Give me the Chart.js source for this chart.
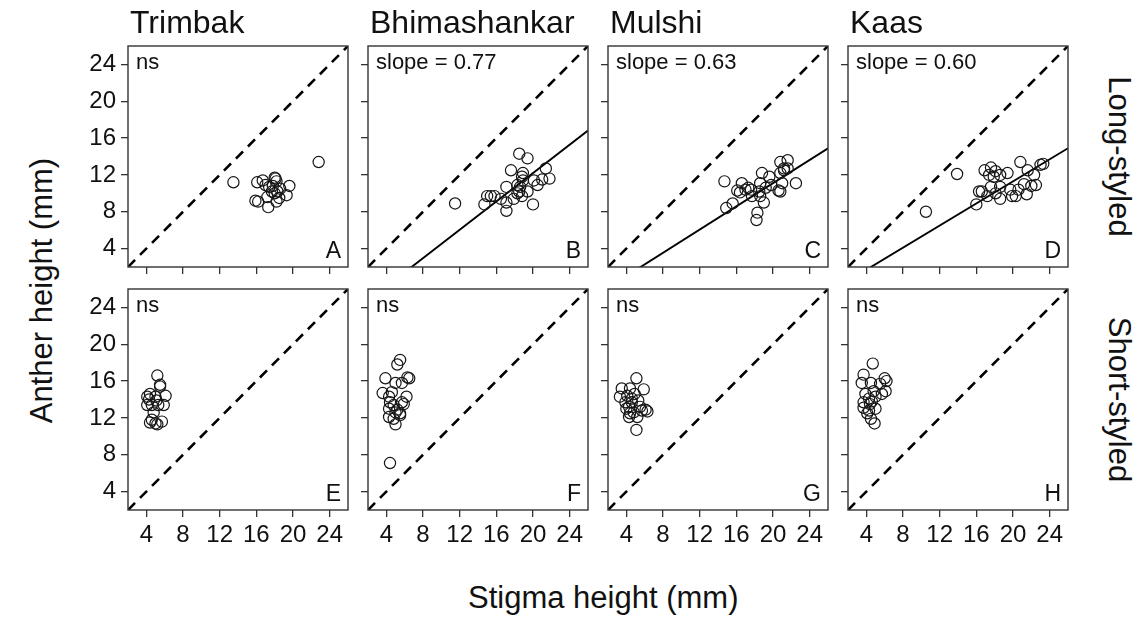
<!DOCTYPE html>
<html>
<head>
<meta charset="utf-8">
<script src="https://cdn.jsdelivr.net/npm/chart.js@4.4.1/dist/chart.umd.min.js"></script>
<style>
  html, body { margin: 0; padding: 0; background: #fff; }
  body { width: 1139px; height: 621px; position: relative; overflow: hidden;
         font-family: "Liberation Sans", Arial, sans-serif; color: #111; }
  canvas.panel { position: absolute; }
  .title { position: absolute; white-space: nowrap; font-size: 31px; line-height: 31px; color: #111; }
</style>
</head>
<body>
<div class="title" id="ytitle">Anther height (mm)</div>
<div class="title" id="xtitle">Stigma height (mm)</div>
<div class="title" id="strip0">Long-styled</div>
<div class="title" id="strip1">Short-styled</div>
<script>
// Sites (columns) and morphs (rows)
const sites = ['Trimbak', 'Bhimashankar', 'Mulshi', 'Kaas'];
const morphs = ['Long-styled', 'Short-styled'];
const panelLetters = ['A', 'B', 'C', 'D', 'E', 'F', 'G', 'H'];
const axisTicks = [4, 8, 12, 16, 20, 24];
const axisRange = [2, 26];

// Regression fits for long-styled flowers (null = not significant)
const longSlopes = [null, 0.77, 0.63, 0.60];
const longIntercepts = [null, -3.2, -1.5, -0.7];

// Long-styled: stigma height and anther height (mm)
const trimbakLongStigma = [13.5, 22.8, 16.1, 16.7, 18.0, 18.2, 19.6, 19.3, 17.4, 17.7, 18.0, 18.3, 17.2, 15.9, 16.2, 17.3, 18.2, 18.5, 18.6, 17.8, 17.0, 18.1];
const trimbakLongAnther  = [11.2, 13.4, 11.2, 11.4, 11.7, 11.3, 10.8, 9.8, 10.7, 10.2, 10.0, 10.2, 9.6, 9.2, 9.1, 8.5, 9.1, 9.5, 10.5, 10.8, 10.9, 11.6];

const bhimaLongStigma = [11.5, 14.7, 15.0, 15.4, 15.8, 17.1, 17.1, 17.1, 17.6, 18.5, 19.4, 18.9, 18.8, 17.9, 18.3, 18.6, 18.5, 18.8, 19.4, 20.0, 20.1, 20.5, 21.0, 21.4, 21.8, 18.9, 18.3, 16.5];
const bhimaLongAnther  = [8.9, 8.8, 9.7, 9.7, 9.7, 9.0, 8.1, 10.7, 12.5, 14.3, 13.8, 12.2, 11.8, 9.4, 10.9, 10.7, 10.2, 9.7, 10.2, 8.8, 11.4, 10.9, 11.5, 12.7, 11.6, 11.4, 10.0, 9.4];

const mulshiLongStigma = [14.7, 14.9, 15.6, 16.1, 16.6, 16.4, 17.0, 17.6, 17.7, 18.3, 18.2, 18.6, 18.8, 18.6, 19.0, 18.5, 19.6, 19.8, 20.6, 20.8, 21.2, 21.6, 21.2, 21.6, 22.5, 20.8, 21.0, 20.8, 17.3, 19.2];
const mulshiLongAnther  = [11.3, 8.4, 8.9, 10.3, 11.1, 10.1, 10.4, 10.4, 9.7, 7.9, 7.1, 11.1, 12.2, 9.7, 9.0, 10.2, 11.8, 10.9, 10.3, 13.4, 12.7, 13.6, 12.5, 12.7, 11.1, 12.2, 11.1, 10.2, 10.6, 10.6];

const kaasLongStigma = [10.5, 13.9, 16.0, 16.3, 16.9, 17.6, 17.4, 18.1, 18.6, 19.4, 17.9, 16.6, 17.2, 17.6, 18.1, 18.6, 18.6, 19.7, 19.9, 20.3, 20.8, 21.2, 21.6, 22.0, 22.5, 23.0, 23.3, 21.5, 22.3, 20.6];
const kaasLongAnther  = [8.0, 12.1, 8.8, 10.2, 12.5, 12.8, 12.0, 12.4, 12.0, 12.2, 11.8, 10.2, 9.7, 10.7, 10.0, 9.4, 10.7, 10.4, 9.7, 9.7, 13.4, 11.0, 12.5, 10.8, 10.9, 13.1, 13.2, 9.9, 12.0, 10.4];

// Short-styled: stigma height and anther height (mm)
const trimbakShortStigma = [5.2, 5.5, 5.5, 4.4, 4.1, 6.1, 5.1, 4.1, 4.6, 5.9, 5.3, 4.8, 4.6, 4.4, 5.0, 5.7, 5.2, 4.3, 5.0];
const trimbakShortAnther  = [16.6, 15.6, 15.4, 14.6, 14.3, 14.4, 13.9, 13.4, 13.4, 13.4, 13.4, 12.6, 11.8, 11.5, 11.4, 11.6, 11.3, 14.0, 14.3];

const bhimaShortStigma = [4.4, 5.5, 5.2, 3.9, 6.3, 6.5, 5.0, 5.7, 3.6, 4.3, 6.2, 4.4, 5.7, 5.9, 4.8, 4.3, 5.0, 5.5, 4.3, 4.8, 5.5, 5.0, 4.6, 5.2];
const bhimaShortAnther  = [7.1, 18.3, 17.8, 16.3, 16.4, 16.3, 15.8, 15.8, 14.7, 14.3, 14.3, 13.7, 13.7, 13.5, 13.4, 13.0, 12.6, 12.5, 12.1, 11.9, 12.3, 11.3, 14.8, 12.9];

const mulshiShortStigma = [5.1, 3.5, 4.4, 5.9, 3.3, 4.1, 4.9, 3.9, 4.6, 5.3, 4.3, 5.5, 6.1, 6.3, 4.4, 5.2, 4.3, 5.1, 5.7, 4.8, 4.6, 4.0];
const mulshiShortAnther  = [16.3, 15.2, 15.2, 15.1, 14.3, 14.4, 14.6, 13.7, 13.7, 13.9, 13.2, 13.2, 12.9, 12.7, 12.5, 12.1, 12.1, 10.7, 12.8, 12.6, 14.1, 13.0];

const kaasShortStigma = [4.7, 3.7, 3.5, 4.5, 5.5, 6.0, 6.2, 6.1, 5.7, 3.9, 4.8, 4.3, 5.0, 3.7, 4.4, 3.7, 4.3, 5.0, 4.1, 4.5, 4.9, 4.6];
const kaasShortAnther  = [17.9, 16.7, 15.8, 15.8, 15.7, 16.3, 16.0, 14.9, 14.6, 14.6, 14.9, 14.1, 14.3, 13.7, 13.5, 13.1, 12.8, 13.0, 12.5, 11.9, 11.4, 13.8];

const panelData = [
  [[trimbakLongStigma, trimbakLongAnther], [bhimaLongStigma, bhimaLongAnther],
   [mulshiLongStigma, mulshiLongAnther], [kaasLongStigma, kaasLongAnther]],
  [[trimbakShortStigma, trimbakShortAnther], [bhimaShortStigma, bhimaShortAnther],
   [mulshiShortStigma, mulshiShortAnther], [kaasShortStigma, kaasShortAnther]]
];

// Layout of the facet grid (pixels)
const FONT = '"Liberation Sans", Arial, sans-serif';
const PANEL_W = 220, PANEL_H = 221;
const colLeft = [128, 368, 608, 848];
const rowTop = [46, 289];
const PAD_L = 75, PAD_T = 45, PAD_R = 10, PAD_B = 52;
const INK = '#111';

function labelFor(row, col) {
  if (row === 0 && longSlopes[col] !== null) return 'slope = ' + longSlopes[col].toFixed(2);
  return 'ns';
}

const panelDecor = {
  id: 'panelDecor',
  afterDatasetsDraw(chart, args, opts) {
    const { ctx, chartArea: a } = chart;
    ctx.save();
    ctx.strokeStyle = '#333';
    ctx.lineWidth = 1.4;
    ctx.strokeRect(a.left, a.top, a.right - a.left, a.bottom - a.top);
    ctx.fillStyle = INK;
    ctx.textBaseline = 'alphabetic';
    ctx.font = '22px ' + FONT;
    ctx.textAlign = 'left';
    ctx.fillText(opts.note, a.left + 8, a.top + 23);
    ctx.font = '23px ' + FONT;
    ctx.textAlign = 'right';
    ctx.fillText(opts.letter, a.right - 7, a.bottom - 9);
    if (opts.strip) {
      ctx.font = '32px ' + FONT;
      ctx.textAlign = 'left';
      ctx.fillText(opts.strip, a.left + 2, a.top - 13);
    }
    ctx.restore();
  }
};

function fixedWidth(w) { return scale => { scale.width = w; }; }
function fixedHeight(h) { return scale => { scale.height = h; }; }

for (let row = 0; row < 2; row++) {
  for (let col = 0; col < 4; col++) {
    const [stigma, anther] = panelData[row][col];
    const canvas = document.createElement('canvas');
    canvas.className = 'panel';
    const cw = PAD_L + PANEL_W + PAD_R, ch = PAD_T + PANEL_H + PAD_B;
    canvas.width = cw; canvas.height = ch;
    canvas.style.width = cw + 'px'; canvas.style.height = ch + 'px';
    canvas.style.left = (colLeft[col] - PAD_L) + 'px';
    canvas.style.top = (rowTop[row] - PAD_T) + 'px';
    document.body.appendChild(canvas);

    const datasets = [
      {
        label: 'flowers',
        data: stigma.map((s, i) => ({ x: s, y: anther[i] })),
        pointStyle: 'circle', pointRadius: 5.6, pointHoverRadius: 5.6,
        borderColor: '#161616', borderWidth: 1.2, backgroundColor: 'rgba(0,0,0,0)',
        showLine: false, order: 1
      },
      {
        label: '1:1',
        data: axisRange.map(v => ({ x: v, y: v })),
        showLine: true, borderColor: '#000', borderWidth: 2.6, borderDash: [10, 7],
        pointRadius: 0, fill: false, order: 2
      }
    ];
    if (row === 0 && longSlopes[col] !== null) {
      datasets.push({
        label: 'fit',
        data: axisRange.map(v => ({ x: v, y: longSlopes[col] * v + longIntercepts[col] })),
        showLine: true, borderColor: '#000', borderWidth: 1.9,
        pointRadius: 0, fill: false, order: 3
      });
    }

    const showY = col === 0, showX = row === 1;
    new Chart(canvas, {
      type: 'scatter',
      data: { datasets },
      options: {
        responsive: false, animation: false, devicePixelRatio: 1,
        layout: { padding: { left: 0, top: PAD_T, right: PAD_R, bottom: 0 } },
        plugins: {
          legend: { display: false }, tooltip: { enabled: false },
          panelDecor: {
            note: labelFor(row, col),
            letter: panelLetters[row * 4 + col],
            strip: row === 0 ? sites[col] : null
          }
        },
        scales: {
          x: {
            type: 'linear', min: axisRange[0], max: axisRange[1],
            afterBuildTicks: s => { s.ticks = axisTicks.map(v => ({ value: v })); },
            afterFit: fixedHeight(PAD_B),
            grid: { drawOnChartArea: false, drawTicks: true, tickLength: 7, color: '#333', lineWidth: 1.3 },
            border: { display: false },
            ticks: { maxRotation: 0, autoSkip: false, padding: 4,
                     color: showX ? INK : 'rgba(0,0,0,0)', font: { family: FONT, size: 24 } }
          },
          y: {
            type: 'linear', min: axisRange[0], max: axisRange[1],
            afterBuildTicks: s => { s.ticks = axisTicks.map(v => ({ value: v })); },
            afterFit: fixedWidth(PAD_L),
            grid: { drawOnChartArea: false, drawTicks: true, tickLength: 7, color: '#333', lineWidth: 1.3 },
            border: { display: false },
            ticks: { autoSkip: false, padding: 5,
                     color: showY ? INK : 'rgba(0,0,0,0)', font: { family: FONT, size: 24 } }
          }
        }
      },
      plugins: [panelDecor]
    });
  }
}

// Outer axis titles and row strip labels
function place(id, cx, cy, angle) {
  const el = document.getElementById(id);
  const w = el.offsetWidth, h = el.offsetHeight;
  el.style.left = (cx - w / 2) + 'px';
  el.style.top = (cy - h / 2) + 'px';
  if (angle) el.style.transform = 'rotate(' + angle + 'deg)';
}
place('ytitle', 41, 290, -90);
place('xtitle', 603, 597, 0);
place('strip0', 1119, rowTop[0] + PANEL_H / 2, 90);
place('strip1', 1119, rowTop[1] + PANEL_H / 2, 90);
</script>
</body>
</html>
